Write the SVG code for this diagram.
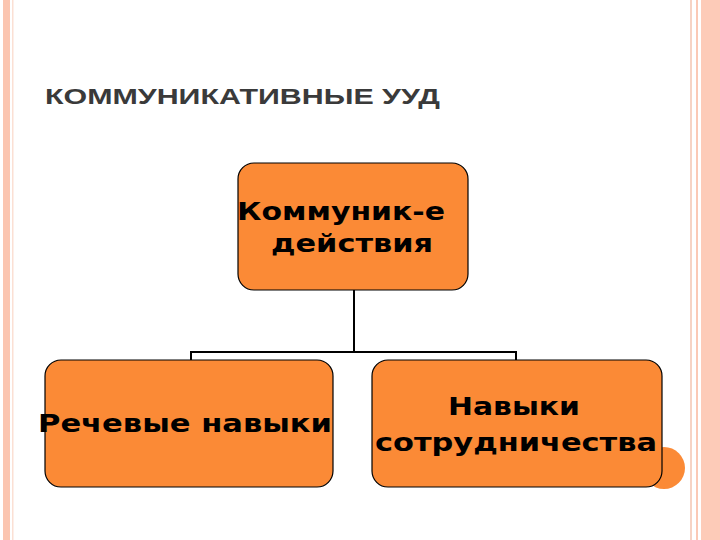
<svg xmlns="http://www.w3.org/2000/svg" width="720" height="540" viewBox="0 0 720 540">
<style>
.box{fill:#FB8A36;stroke:#000;stroke-width:1.2}
.t{font-family:"DejaVu Sans",Verdana,sans-serif;font-weight:bold;font-size:25px;fill:#000;text-anchor:middle}
.c{stroke:#000;stroke-width:2;fill:none}
</style>
<rect width="720" height="540" fill="#fff"/>
<rect x="3" y="0" width="7" height="540" fill="#FBC5B0"/>
<rect x="12" y="0" width="1.5" height="540" fill="#FBE0D4"/>
<rect x="690" y="0" width="2" height="540" fill="#F6D3C4"/>
<rect x="696" y="0" width="2" height="540" fill="#FBC9B5"/>
<rect x="701" y="0" width="19" height="540" fill="#FDCBB8"/>
<text x="45" y="104" font-family="Liberation Sans,Arial,sans-serif" font-size="22" font-weight="bold" fill="#3a3a3a" textLength="395" lengthAdjust="spacingAndGlyphs">КОММУНИКАТИВНЫЕ УУД</text>
<circle cx="664" cy="468" r="21" fill="#FB8A36"/>
<g id="connectors">
<path class="c" d="M354 290V352M190 352H517M191 351V360M516 351V360"/>
</g>
<g id="top"><rect class="box" x="238" y="163" width="230" height="127" rx="16"/>
<text class="t" x="341" y="220" textLength="208" lengthAdjust="spacingAndGlyphs">Коммуник-е</text><text class="t" x="352" y="252" textLength="162" lengthAdjust="spacingAndGlyphs">действия</text></g>
<g id="left"><rect class="box" x="45" y="360" width="288" height="127" rx="16"/>
<text class="t" x="185" y="432" textLength="294" lengthAdjust="spacingAndGlyphs">Речевые навыки</text></g>
<g id="right"><rect class="box" x="372" y="360" width="290" height="127" rx="16"/>
<text class="t" x="514" y="415" textLength="132" lengthAdjust="spacingAndGlyphs">Навыки</text><text class="t" x="516" y="451" textLength="282" lengthAdjust="spacingAndGlyphs">сотрудничества</text></g>
</svg>
